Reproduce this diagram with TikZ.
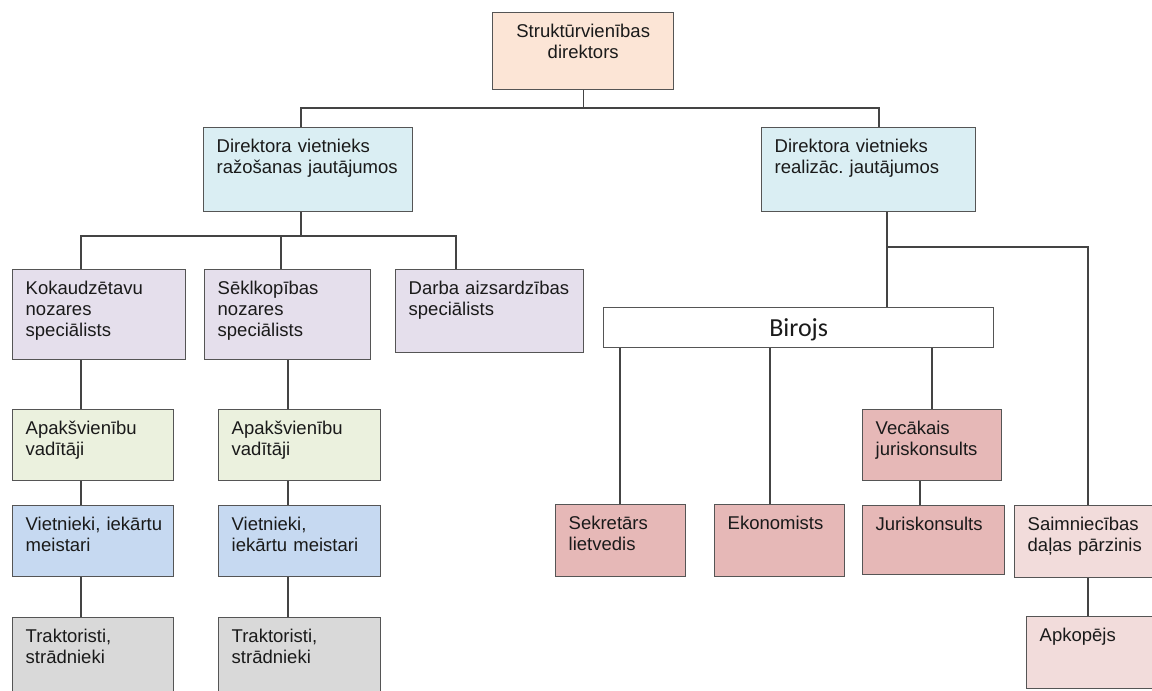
\documentclass[tikz,border=0pt]{standalone}
\usepackage{fontspec}
\newfontfamily\arialf{Liberation Sans}
\newfontfamily\calib{Carlito}
\definecolor{peach}{HTML}{FCE5D6}
\definecolor{vpblue}{HTML}{DAEEF3}
\definecolor{lav}{HTML}{E5DFEC}
\definecolor{lgreen}{HTML}{EBF1DE}
\definecolor{mblue}{HTML}{C6D9F1}
\definecolor{lgray}{HTML}{D9D9D9}
\definecolor{rose}{HTML}{E6B8B7}
\definecolor{ppink}{HTML}{F2DCDB}
\definecolor{borderc}{HTML}{555555}
\definecolor{connc}{HTML}{444444}
\definecolor{textc}{HTML}{1A1A1A}
\tikzset{
  conn/.style={draw=connc, line width=1.3pt},
  ob/.style={draw=borderc, line width=1.4pt, anchor=north west, inner xsep=13pt, inner ysep=11pt,
    text height=13.5pt, align=left, text=textc, font=\arialf\fontsize{18.5}{21.3}\selectfont},
  birojsbox/.style={draw=borderc, line width=1.4pt, fill=white, anchor=north west, inner sep=0pt,
    minimum width=390pt, minimum height=40pt, text height=16.7pt, text depth=0pt, text=textc,
    font=\calib\fontsize{26}{30}\selectfont}
}
\begin{document}
\begin{tikzpicture}[x=1pt,y=-1pt]
\useasboundingbox (0,0) rectangle (1152,691);
\clip (0,0) rectangle (1152,691);

% boxes
\node[ob, fill=peach, align=center, text width=155pt, text depth=41.5pt] (top) at (492,12) {Struktūrvienības\\direktors};
\node[ob, fill=vpblue, text width=183pt, text depth=48.5pt] (vpone) at (203,127) {Direktora~vietnieks\\ražošanas~jautājumos};
\node[ob, fill=vpblue, text width=188pt, text depth=48.5pt] (vptwo) at (761,127) {Direktora~vietnieks\\realizāc.~jautājumos};

\node[ob, fill=lav, text width=147pt, text depth=54.5pt] (kok) at (12,269) {Kokaudzētavu\\nozares\\speciālists};
\node[ob, fill=lav, text width=140pt, text depth=54.5pt] (sek) at (204,269) {Sēklkopības\\nozares\\speciālists};
\node[ob, fill=lav, text width=162pt, text depth=47.5pt] (darba) at (395,269) {Darba~aizsardzības\\speciālists};

\node[ob, fill=lgreen, text width=135pt, text depth=35.5pt] (apak1) at (12,409) {Apakšvienību\\vadītāji};
\node[ob, fill=mblue, text width=135pt, text depth=35.5pt] (viet1) at (12,505) {Vietnieki,~iekārtu\\meistari};
\node[ob, fill=lgray, text width=135pt, text depth=47.5pt] (trak1) at (12,617) {Traktoristi,\\strādnieki};

\node[ob, fill=lgreen, text width=136pt, text depth=35.5pt] (apak2) at (218,409) {Apakšvienību\\vadītāji};
\node[ob, fill=mblue, text width=136pt, text depth=35.5pt] (viet2) at (218,505) {Vietnieki,\\iekārtu~meistari};
\node[ob, fill=lgray, text width=136pt, text depth=47.5pt] (trak2) at (218,617) {Traktoristi,\\strādnieki};

\node[birojsbox] (biro) at (603,307) {Birojs};

\node[ob, fill=rose, text width=104pt, text depth=36.5pt] (sekr) at (555,504) {Sekretārs\\lietvedis};
\node[ob, fill=rose, text width=104pt, text depth=36.5pt] (ekon) at (714,504) {Ekonomists};
\node[ob, fill=rose, text width=113pt, text depth=35.5pt] (vec) at (862,409) {Vecākais\\juriskonsults};
\node[ob, fill=rose, text width=116pt, text depth=33.5pt] (juris) at (862,505) {Juriskonsults};
\node[ob, fill=ppink, text width=124pt, text depth=36.5pt] (saim) at (1014,505) {Saimniecības\\daļas~pārzinis};
\node[ob, fill=ppink, text width=114pt, text depth=36.5pt] (apk) at (1026,616) {Apkopējs};

% helper coordinates
\coordinate (b1l) at (301,108);
\coordinate (b1r) at (879,108);
\coordinate (b2v) at (301,236);
\coordinate (b2a) at (81,236);
\coordinate (b2b) at (281,236);
\coordinate (b2c) at (456,236);
\coordinate (xa) at (81,0);
\coordinate (xb) at (288,0);
\coordinate (b3) at (887,247);
\coordinate (b3r) at (1088,247);
\coordinate (xs) at (620,0);
\coordinate (xe) at (770,0);
\coordinate (xv) at (932,0);
\coordinate (xj) at (920,0);

% connectors
\draw[conn] (top.south) -- (top.south |- b1l);
\draw[conn] (vpone.north -| b1l) -- (b1l) -- (b1r) -- (vptwo.north -| b1r);

\draw[conn] (vpone.south -| b2v) -- (b2v);
\draw[conn] (kok.north -| b2a) -- (b2a) -- (b2c) -- (darba.north -| b2c);
\draw[conn] (b2b) -- (sek.north -| b2b);

\draw[conn] (kok.south -| xa) -- (apak1.north -| xa);
\draw[conn] (apak1.south -| xa) -- (viet1.north -| xa);
\draw[conn] (viet1.south -| xa) -- (trak1.north -| xa);

\draw[conn] (sek.south -| xb) -- (apak2.north -| xb);
\draw[conn] (apak2.south -| xb) -- (viet2.north -| xb);
\draw[conn] (viet2.south -| xb) -- (trak2.north -| xb);

\draw[conn] (vptwo.south -| b3) -- (b3) -- (b3r) -- (saim.north -| b3r);
\draw[conn] (b3) -- (biro.north -| b3);

\draw[conn] (biro.south -| xs) -- (sekr.north -| xs);
\draw[conn] (biro.south -| xe) -- (ekon.north -| xe);
\draw[conn] (biro.south -| xv) -- (vec.north -| xv);
\draw[conn] (vec.south -| xj) -- (juris.north -| xj);
\draw[conn] (saim.south -| b3r) -- (apk.north -| b3r);
\end{tikzpicture}
\end{document}
